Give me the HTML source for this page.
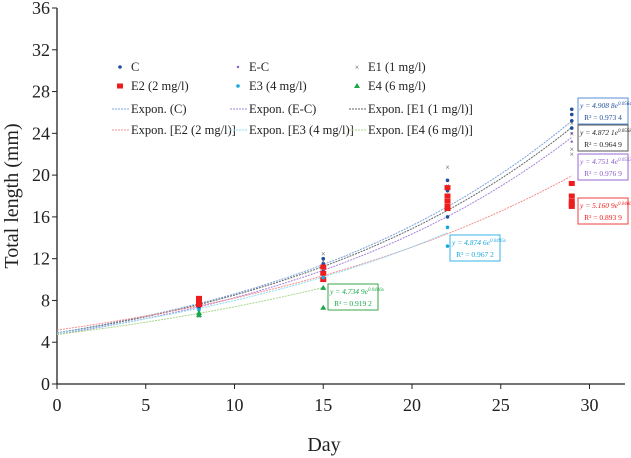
<!DOCTYPE html>
<html><head><meta charset="utf-8"><style>
html,body{margin:0;padding:0;background:#fff}
svg{display:block;font-family:"Liberation Serif",serif}
</style></head><body>
<svg id="chart" width="631" height="458" viewBox="0 0 631 458"></svg>
<script>
const xTicks=[0,5,10,15,20,25,30];
const yTicks=[0,4,8,12,16,20,24,28,32,36];
const seriesNames=["C","E-C","E1 (1 mg/l)","E2 (2 mg/l)","E3 (4 mg/l)","E4 (6 mg/l)"];
const seriesColors=["#1f4e9c","#8a5cc8","#555555","#ee1c1c","#1aa7e0","#1aa64a"];
const fitColors=["#7aa4e0","#a784dc","#666666","#f39090","#8fdcf4","#a8d88a"];
const fitA=[4.9088,4.7514,4.8721,5.1609,4.8746,4.7349];
const fitB=[0.0564,0.0553,0.0558,0.0466,0.0495,0.0446];
const fitR2=["0.973 4","0.976 9","0.964 9","0.893 9","0.967 2","0.919 2"];
const fitEnd=[29,29,29,29,22,15];
const ptsC=[[8,7.3],[8,7.6],[15,11.5],[15,12],[15,10.8],[22,19.5],[22,18.5],[22,16],[29,26.3],[29,25.8],[29,25.2],[29,24.5]];
const ptsEC=[[8,7.0],[15,11],[22,17],[29,24],[29,23.2]];
const ptsE1=[[8,6.5],[8,7.8],[15,12.5],[15,11.8],[22,20.8],[22,19],[29,25],[29,24],[29,22.5],[29,22]];
const ptsE2=[[8,8.2],[8,7.8],[8,7.6],[15,11.2],[15,10.6],[15,10],[22,18.8],[22,18],[22,17.5],[22,17],[22,16.8],[29,19.2],[29,18],[29,17.5],[29,17.2],[29,17]];
const ptsE3=[[8,7.1],[15,10.2],[22,15],[22,13.2]];
const ptsE4=[[8,6.8],[8,6.6],[15,9.2],[15,7.3]];
const allPts=[ptsC,ptsEC,ptsE1,ptsE2,ptsE3,ptsE4];

const NS="http://www.w3.org/2000/svg";
const svg=document.getElementById('chart');
const X0=57,X1=625,Y0=384,Ytop=8,pxX=17.75;
const sx=v=>X0+v*pxX, sy=v=>Y0-v*(Y0-Ytop)/36;
function el(t,a,p){const e=document.createElementNS(NS,t);for(const k in a)e.setAttribute(k,a[k]);(p||svg).appendChild(e);return e;}

const ax=el('g',{});


el('line',{x1:X0,y1:Ytop,x2:X0,y2:Y0,stroke:'#222','stroke-width':1.3},ax);
el('line',{x1:X0,y1:Y0,x2:X1,y2:Y0,stroke:'#222','stroke-width':1.3},ax);
yTicks.forEach(v=>{
  el('line',{x1:X0-5,y1:sy(v),x2:X0,y2:sy(v),stroke:'#222'},ax);
  const t=el('text',{x:X0-7,y:sy(v)+6,'text-anchor':'end','font-size':18,fill:'#222'},ax);t.textContent=v;
  
  
});
xTicks.forEach(v=>{
  el('line',{x1:sx(v),y1:Y0,x2:sx(v),y2:Y0+5,stroke:'#222'},ax);
  const t=el('text',{x:sx(v),y:Y0+27,'text-anchor':'middle','font-size':18,fill:'#222'},ax);t.textContent=v;
  
  
});
let t=el('text',{x:324,y:451,'text-anchor':'middle','font-size':20,fill:'#222'});t.textContent='Day';


t=el('text',{x:18,y:196,'text-anchor':'middle','font-size':20,fill:'#222',transform:'rotate(-90 18 196)'});t.textContent='Total length (mm)';



fitA.forEach((a,i)=>{
  let d='';for(let x=0;x<=fitEnd[i]+0.001;x+=0.5){d+=(x?'L':'M')+sx(x).toFixed(1)+','+sy(a*Math.exp(fitB[i]*x)).toFixed(1);}
  const p=el('path',{d:d,fill:'none',stroke:fitColors[i],'stroke-width':1,'stroke-dasharray':'2,1'});
  
  
});
function mark(i,x,y,g){
  const c=seriesColors[i];
  if(i===3)return el('rect',{x:x-3,y:y-2.5,width:6,height:5,fill:c},g);
  if(i===5)return el('path',{d:`M${x},${y-3}L${x+3},${y+2}L${x-3},${y+2}Z`,fill:c},g);
  if(i===2)return el('text',{x:x,y:y+3,'text-anchor':'middle','font-size':8,fill:c},g);
  return el('circle',{cx:x,cy:y,r:i===1?1.2:1.8,fill:c},g);
}
allPts.forEach((pts,i)=>{pts.forEach(p=>{
  const m=mark(i,sx(p[0]),sy(p[1]));if(i===2)m.textContent='×';
  
  
});});

const lg=el('g',{});


const colX=[120,238,357];
seriesNames.forEach((n,i)=>{
  const cx=colX[i%3],cy=71+Math.floor(i/3)*19;
  const m=mark(i,cx,cy-4,lg);if(i===2)m.textContent='×';
  const tt=el('text',{x:cx+11,y:cy,'font-size':12.5,fill:'#222'},lg);tt.textContent=n;
  
  
});
const fitNames=["Expon. (C)","Expon. (E-C)","Expon. [E1 (1 mg/l)]","Expon. [E2 (2 mg/l)]","Expon. [E3 (4 mg/l)]","Expon. [E4 (6 mg/l)]"];
fitNames.forEach((n,i)=>{
  const cx=colX[i%3]-8,cy=113+Math.floor(i/3)*21;
  el('line',{x1:cx,y1:cy-4,x2:cx+18,y2:cy-4,stroke:fitColors[i],'stroke-dasharray':'2,1'},lg);
  const tt=el('text',{x:cx+19,y:cy,'font-size':12.5,fill:'#222'},lg);tt.textContent=n;
  
  
});

const boxes=[[578,98,0,'#5b8fd8'],[578,125,2,'#555'],[578,154,1,'#9a6ad6'],[578,198,3,'#f04040'],[450,235,4,'#3ab5e8'],[328,284,5,'#3aa64a']];
const boxText=['#1f4e9c','#8a5cc8','#222','#ee1c1c','#1aa7e0','#1aa64a'];
boxes.forEach(b=>{
  const [x,y,i,c]=b;
  const g=el('g',{});
  
  
  el('rect',{x:x,y:y,width:50,height:26,fill:'#fff',stroke:c,'stroke-width':1},g);
  const t1=el('text',{x:x+2,y:y+10,'font-size':7.5,'font-style':'italic',fill:boxText[i]},g);
  t1.textContent='y = '+fitA[i].toFixed(4).replace(/(\d\.\d{3})/,'$1 ')+'e';
  const s=el('tspan',{'font-size':5,dy:-3},t1);s.textContent=fitB[i].toFixed(4)+'x';
  const t2=el('text',{x:x+25,y:y+22,'font-size':7.5,'text-anchor':'middle',fill:boxText[i]},g);
  t2.textContent='R² = '+fitR2[i];
});
</script>
</body></html>
